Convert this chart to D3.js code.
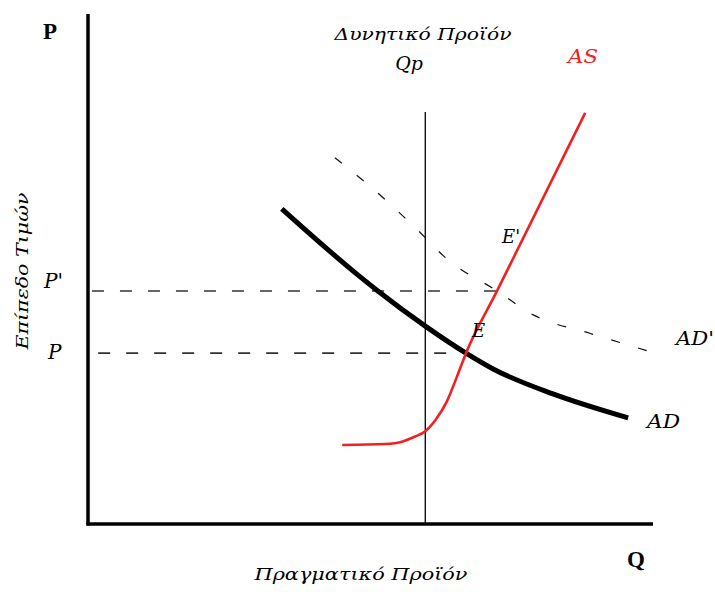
<!DOCTYPE html>
<html><head><meta charset="utf-8">
<script src="https://cdn.jsdelivr.net/npm/d3@7"></script>
<style>body{margin:0;background:#fff;} svg{display:block;}</style>
</head><body>
<svg id="c" width="715" height="592"></svg>
<script>
// Data (chart units: Q on x 0..100, P on y 0..100)
const qpValue = 59.7;
const qpTop = 80.8;
const priceLevels = [{label:"P'", value:45.7, x0:0.7}, {label:"P", value:33.5, x0:1.8}];
const asCurve = [[45.0,15.5],[52.6,15.7],[55.7,16.2],[57.8,17.1],[59.7,18.2],[61.5,20.4],[63.5,24.0],[65.2,28.6],[66.9,33.5],[72.4,45.7],[88.0,80.6]];
const adCurve = [[34.3,61.8],[47.8,48.8],[51.3,45.7],[59.7,38.8],[66.9,33.5],[71.7,30.4],[82.3,25.5],[95.6,20.8]];
const adPrimeCurve = [[43.7,71.8],[49.4,66.7],[58.2,57.8],[63.5,52.0],[72.4,45.7],[78.8,41.0],[88.8,37.4],[100.4,33.5]];
const equilibria = [{label:"E", q:66.9, p:33.5}, {label:"E'", q:72.4, p:45.7}];

const svg = d3.select("#c");
const x = d3.scaleLinear().domain([0,100]).range([88,653]);
const y = d3.scaleLinear().domain([0,100]).range([524,14]);
const serif = "'DejaVu Serif','Liberation Serif',serif";

// Horizontal dashed price lines
priceLevels.forEach((d,i)=>{
  const eq = equilibria[1-i];
  svg.append("line").attr("x1",x(d.x0)).attr("x2",x(eq.q)).attr("y1",y(d.value)).attr("y2",y(d.value))
    .attr("stroke","#333").attr("stroke-width",1.6).attr("stroke-dasharray","12,16");
});

// Qp vertical line
svg.append("line").attr("x1",x(qpValue)).attr("x2",x(qpValue)).attr("y1",y(qpTop)).attr("y2",y(0))
  .attr("stroke","#111").attr("stroke-width",1.4);

const line = d3.line().x(d=>x(d[0])).y(d=>y(d[1])).curve(d3.curveMonotoneX);

// AD'
svg.append("path").attr("d",line(adPrimeCurve)).attr("fill","none").attr("stroke","#111")
  .attr("stroke-width",1.2).attr("stroke-dasharray","9,19");
// AD
svg.append("path").attr("d",line(adCurve)).attr("fill","none").attr("stroke","#000")
  .attr("stroke-width",5).attr("stroke-linecap","butt");
// AS
svg.append("path").attr("d",line(asCurve)).attr("fill","none").attr("stroke","#f22020")
  .attr("stroke-width",2.6);

// Axes
svg.append("line").attr("x1",x(0)).attr("x2",x(0)).attr("y1",y(100)).attr("y2",y(0)+1.5)
  .attr("stroke","#000").attr("stroke-width",3.5);
svg.append("line").attr("x1",x(0)-1.5).attr("x2",x(100)).attr("y1",y(0)).attr("y2",y(0))
  .attr("stroke","#000").attr("stroke-width",3.5);

function txt(t,xx,yy,opt={}){
  const s = svg.append("text").attr("x",xx).attr("y",yy).text(t)
    .attr("font-family",opt.family||serif).attr("font-size",opt.size||17)
    .attr("font-style",opt.italic===false?"normal":"italic")
    .attr("font-weight",opt.bold?"bold":"normal")
    .attr("fill",opt.color||"#000")
    .attr("text-anchor",opt.anchor||"start");
  if(opt.len) s.attr("textLength",opt.len).attr("lengthAdjust","spacingAndGlyphs");
  return s;
}
txt("P",43,39,{size:23,bold:true,italic:false,family:"'Liberation Serif',serif"});
txt("Q",627,567,{size:23,bold:true,italic:false,family:"'Liberation Serif',serif"});
txt("Δυνητικό Προϊόν",423,40,{size:17,anchor:"middle",len:177});
txt("Qp",409,70,{size:19,anchor:"middle"});
txt("AS",568,63,{size:18,color:"#f22020",len:30});
txt("AD'",676,345,{size:18,len:38});
txt("AD",647,428,{size:18,len:33});
equilibria.forEach(e=>{
  if(e.label==="E") txt("E",x(e.q)+6,y(e.p)-16,{size:18});
  else txt("E'",x(e.q)+5,y(e.p)-48,{size:18});
});
priceLevels.forEach(d=>{
  txt(d.label,d.label==="P"?48:44,y(d.value)+(d.label==="P"?6:-3),{size:20});
});
txt("Πραγματικό Προϊόν",361,580,{size:17,anchor:"middle",len:213});
svg.append("text").attr("transform","translate(28,271) rotate(-90)").text("Επίπεδο Τιμών")
  .attr("font-family",serif).attr("font-size",16).attr("font-style","italic").attr("text-anchor","middle")
  .attr("textLength",157).attr("lengthAdjust","spacingAndGlyphs");
</script>
</body></html>
